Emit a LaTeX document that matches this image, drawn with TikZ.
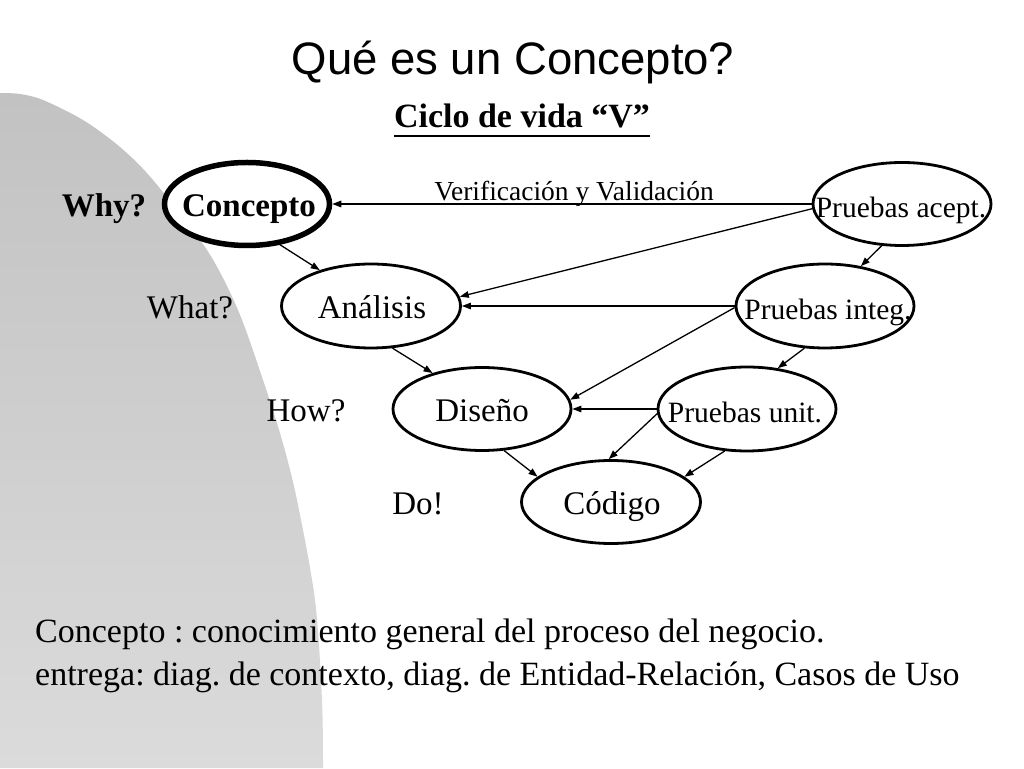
\documentclass[tikz,border=0pt]{standalone}
\usepackage{fontspec}
\setmainfont{Liberation Serif}
\newfontfamily\titlefont{Liberation Sans}
\usetikzlibrary{arrows.meta,shapes.geometric}
\frenchspacing
\begin{document}
\begin{tikzpicture}[x=1pt,y=1pt,
  ell/.style={draw, ellipse, line width=2.8pt, inner sep=0pt, fill=white, minimum width=178pt, minimum height=84pt},
  lbl/.style={inner sep=0pt, anchor=base, font=\fontsize{33}{38}\selectfont},
  plbl/.style={inner sep=0pt, anchor=base, font=\fontsize{29.5}{34}\selectfont},
  arr/.style={line width=1.3pt, -{Triangle[length=9pt,width=6.5pt]}},
]
\useasboundingbox (0,0) rectangle (1024,768);
\fill[white] (0,0) rectangle (1024,768);
\shade[top color={rgb,255:red,194;green,194;blue,194}, bottom color={rgb,255:red,219;green,219;blue,219}]
  plot[smooth] coordinates {(0,675) (20,674) (43,668) (83,648) (120,621) (153,588) (207,518) (238,458) (263,388) (282,328) (297,268) (315,168) (322,68) (323,0)} -- (0,0) -- cycle;

% title
\node[inner sep=0pt, anchor=base, font=\titlefont\fontsize{45.5}{52}\selectfont] (title) at (513,693) {Qué es un Concepto?};
\node[inner sep=0pt, anchor=base, font=\bfseries\fontsize{34}{40}\selectfont] (ciclo) at (522,640) {Ciclo de vida “V”};
\draw[line width=2pt] ([yshift=-8pt]ciclo.base west) -- ([yshift=-8pt]ciclo.base east);

% ellipses
\node[ell, line width=5.5pt, minimum width=165pt, minimum height=83pt] (con) at (247,564) {};
\node[ell, minimum width=179pt] (ana) at (371,462) {};
\node[ell, minimum height=83pt] (dis) at (482,359) {};
\node[ell, minimum width=179pt, minimum height=83pt] (cod) at (611,266) {};
\node[ell, minimum height=83pt] (acept) at (902,564) {};
\node[ell] (integ) at (825,462) {};
\node[ell] (unit) at (747,359) {};

% texts
\node[lbl, font=\bfseries\fontsize{33}{38}\selectfont] (why) at (104,551) {Why?};
\node[lbl, font=\bfseries\fontsize{33}{38}\selectfont] (con-t) at (249,551) {Concepto};
\node[lbl] (what) at (190,449) {What?};
\node[lbl] (ana-t) at (372,449) {Análisis};
\node[lbl] (how) at (306,346) {How?};
\node[lbl] (dis-t) at (482,346) {Diseño};
\node[lbl] (do) at (418,253) {Do!};
\node[lbl] (cod-t) at (612,253) {Código};
\node[plbl] (acept-t) at (901,550) {Pruebas acept.};
\node[plbl] (integ-t) at (828,448) {Pruebas integ.};
\node[plbl] (unit-t) at (745,345) {Pruebas unit.};
\node[inner sep=0pt, anchor=base, font=\fontsize{27.5}{32}\selectfont] (vv) at (574,567) {Verificación y Validación};

% arrows
\draw[arr] (con.-51) -- (ana.145);
\draw[arr] (ana.-63) -- (dis.144);
\draw[arr] (dis.-62) -- (cod.161);
\draw[arr] (acept.west) -- (con.east);
\draw[arr] (acept.183) -- (ana.6);
\draw[arr] (acept.-116) -- (integ.48);
\draw[arr] (integ.west) -- (ana.east);
\draw[arr] (integ.181) -- (dis.6);
\draw[arr] (integ.-116) -- (unit.53);
\draw[arr] (unit.west) -- (dis.east);
\draw[arr] (unit.183) -- (cod.93);
\draw[arr] (unit.-118) -- (cod.19);

% bottom text
\node[inner sep=0pt, anchor=base west, font=\fontsize{34}{40}\selectfont] (def1) at (35,125) {Concepto : conocimiento general del proceso del negocio.};
\node[inner sep=0pt, anchor=base west, font=\fontsize{34}{40}\selectfont] (def2) at (35,83) {entrega: diag. de contexto, diag. de Entidad-Relación, Casos de Uso};
\end{tikzpicture}
\end{document}
